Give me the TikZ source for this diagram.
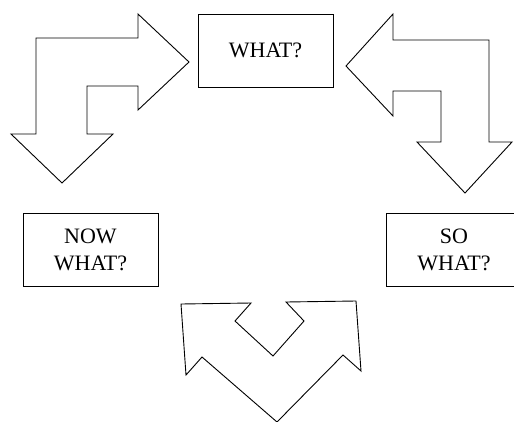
\documentclass[tikz,border=0pt]{standalone}
\usepackage{fontspec}
\setmainfont{Liberation Serif}
\begin{document}
\begin{tikzpicture}[x=1pt,y=-1pt,line join=miter,
  box/.style={draw,line width=0.9pt,minimum width=135pt,minimum height=73pt,inner sep=0pt,align=center,font=\fontsize{22}{27}\selectfont},
  blockarrow/.style={draw,line width=0.9pt}]
\useasboundingbox (0,0) rectangle (514,421);
\clip (0,0) rectangle (514,421);
\fill[white] (0,0) rectangle (514,421);
\node[box] (what) at (265.5,50.5) {WHAT?};
\node[box] (now) at (90.5,249.5) {NOW\\WHAT?};
\node[box] (so) at (454,249.5) {SO\\WHAT?};
% left bent arrow
\draw[blockarrow] (36,134) -- (36,38) -- (138,38) -- (138,14) -- (189,62) -- (138,110)
  -- (138,86) -- (87,86) -- (87,134) -- (113,134) -- (62,183) -- (11,134) -- cycle;
% right bent arrow
\draw[blockarrow] (346,66) -- (393,14) -- (393,40) -- (489,40) -- (489,142) -- (512,142)
  -- (465,193) -- (417,142) -- (441,142) -- (441,91) -- (393,91) -- (393,116) -- cycle;
% bottom double arrow
\draw[blockarrow] (181,304) -- (251,303) -- (235,321) -- (273,356) -- (304,321) -- (286,302)
  -- (356,301) -- (361,371) -- (343,355) -- (277,422) -- (202,357) -- (186,375) -- cycle;
\end{tikzpicture}
\end{document}
